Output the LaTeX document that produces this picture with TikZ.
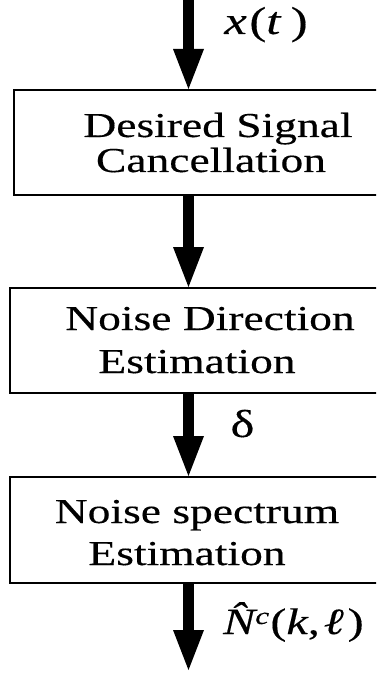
\documentclass[tikz,border=0pt]{standalone}
\usepackage{fontspec}
\setmainfont[FakeBold=0.3]{Liberation Serif}
\usetikzlibrary{arrows.meta}

% text in this chart is set wide
\newcommand{\wide}[1]{\scalebox{1.3}[1]{#1}}

\tikzset{
  box/.style={draw, line width=2pt, rectangle, inner sep=0pt, anchor=north west},
  flow/.style={line width=11pt, -{Triangle[length=40pt, width=31pt, line width=0pt]}},
  txt/.style={anchor=base, inner sep=0pt, font=\fontsize{35}{42}\selectfont},
  lbl/.style={anchor=base, inner sep=0pt, font=\fontsize{39}{44}\selectfont},
}

\begin{document}
\begin{tikzpicture}[x=1pt, y=-1pt]
\useasboundingbox (0,0) rectangle (376,676);
\clip (0,0) rectangle (376,676);

% processing blocks (they run off past the right edge)
\node[box, minimum width=420pt, minimum height=105pt] (b1) at (13,89) {};
\node[box, minimum width=420pt, minimum height=105pt] (b2) at (9,287) {};
\node[box, minimum width=420pt, minimum height=106pt] (b3) at (9,476) {};

% block texts
\node[txt] (t1a) at (218,137) {\wide{Desired Signal}};
\node[txt] (t1b) at (211,172) {\wide{Cancellation}};
\node[txt] (t2a) at (210,330) {\wide{Noise Direction}};
\node[txt] (t2b) at (197,373) {\wide{Estimation}};
\node[txt] (t3a) at (197,523) {\wide{Noise spectrum}};
\node[txt] (t3b) at (187,565) {\wide{Estimation}};

% signal flow
\coordinate (ax) at (188.5,0);
\coordinate (out) at (188.5,670);
\draw[flow] (ax) -- (ax |- b1.north);
\draw[flow] (ax |- b1.south) -- (ax |- b2.north);
\draw[flow] (ax |- b2.south) -- (ax |- b3.north);
\draw[flow] (ax |- b3.south) -- (out);

% signal labels
\node[lbl] (xt) at (266,34) {\wide{\itshape x\kern2pt\upshape(\itshape t\kern8pt\upshape)}};
\node[lbl] (dl) at (242.5,437) {\wide{δ}};
\node[lbl, anchor=base west, font=\fontsize{37}{42}\selectfont] (nh) at (223,634)
  {\wide{\itshape N\char"0302\raisebox{10pt}{\fontsize{24}{24}\selectfont c}\kern1pt\upshape(\itshape k\upshape,\kern3pt\itshape ℓ\kern3pt\upshape)}};
\end{tikzpicture}
\end{document}
